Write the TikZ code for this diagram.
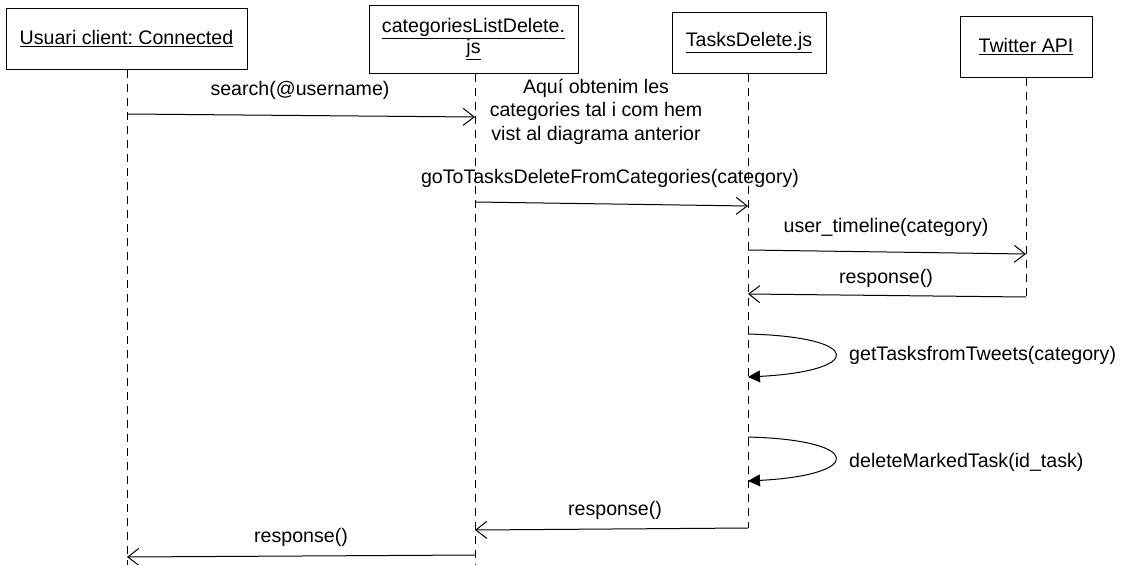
\documentclass[tikz,border=0pt]{standalone}
\usepackage{fontspec}
\setmainfont{Liberation Sans}
\usetikzlibrary{arrows.meta}
\frenchspacing

\begin{document}
\begin{tikzpicture}[x=1pt,y=-1pt,
  txt/.style={font=\fontsize{19.6}{21.5}\selectfont},
  obj/.style={draw, line width=1pt, align=center, inner sep=0pt, txt},
  life/.style={line width=0.9pt, dash pattern=on 8pt off 6pt},
  msg/.style={line width=1pt, -{Straight Barb[length=11pt,width=17pt]}},
  selfmsg/.style={line width=1pt, -{Triangle[length=12pt,width=12pt]}},
  lbl/.style={txt, inner sep=0pt}]
\useasboundingbox (0,0) rectangle (1125,565);

% participants
\node[obj, minimum width=241pt, minimum height=61pt] (usr) at (126.5,38.5) {\underline{Usuari client: Connected}};
\node[obj, minimum width=209pt, minimum height=68pt] (cat) at (473.5,39) {\underline{categoriesListDelete.}\\[-1pt]\underline{js}};
\node[obj, minimum width=154pt, minimum height=61pt] (tsk) at (749,42.5) {\underline{TasksDelete.js}};
\node[obj, minimum width=132pt, minimum height=61pt] (tw) at (1026,46.5) {\underline{Twitter API}};

% lifeline ends
\coordinate (usrEnd) at (127,565);
\coordinate (catEnd) at (475,565);
\coordinate (tskEnd) at (748,528);
\coordinate (twEnd)  at (1026,297);

\draw[life] (usr.south -| usrEnd) -- (usrEnd);
\draw[life] (cat.south -| catEnd) -- (catEnd);
\draw[life] (tsk.south -| tskEnd) -- (tskEnd);
\draw[life] (tw.south -| twEnd) -- (twEnd);

% message anchor points on the lifelines
\coordinate (m1a) at (127,114);  \coordinate (m1b) at (475,117);
\coordinate (m2a) at (475,202);  \coordinate (m2b) at (748,206);
\coordinate (m3a) at (748,250);  \coordinate (m3b) at (1026,254);
\coordinate (m4a) at (1026,297); \coordinate (m4b) at (748,294);
\coordinate (s1a) at (748,334);  \coordinate (s1b) at (748,377);
\coordinate (s2a) at (748,437);  \coordinate (s2b) at (748,481);
\coordinate (m5a) at (748,528);  \coordinate (m5b) at (475,530);
\coordinate (m6a) at (475,555);  \coordinate (m6b) at (127,557);

% messages
\draw[msg] (m1a) -- (m1b);
\draw[msg] (m2a) -- (m2b);
\draw[msg] (m3a) -- (m3b);
\draw[msg] (m4a) -- (m4b);
\draw[selfmsg] (s1a) .. controls (864,337) and (864,371) .. (s1b);
\draw[selfmsg] (s2a) .. controls (864,440) and (864,475) .. (s2b);
\draw[msg] (m5a) -- (m5b);
\draw[msg] (m6a) -- (m6b);

% labels
\node[lbl] (l1) at (300,90) {search(@username)};
\node[lbl, align=center, font=\fontsize{19.6}{23.5}\selectfont] (note) at (596,111.5) {Aquí obtenim les\\categories tal i com hem\\vist al diagrama anterior};
\node[lbl] (l2) at (610,178) {goToTasksDeleteFromCategories(category)};
\node[lbl] (l3) at (886,227) {user\_timeline(category)};
\node[lbl] (l4) at (886,278) {response()};
\node[lbl, anchor=west] (l5) at (849,355) {getTasksfromTweets(category)};
\node[lbl, anchor=west] (l6) at (849,462) {deleteMarkedTask(id\_task)};
\node[lbl] (l7) at (615,510) {response()};
\node[lbl] (l8) at (301,537) {response()};
\end{tikzpicture}
\end{document}
